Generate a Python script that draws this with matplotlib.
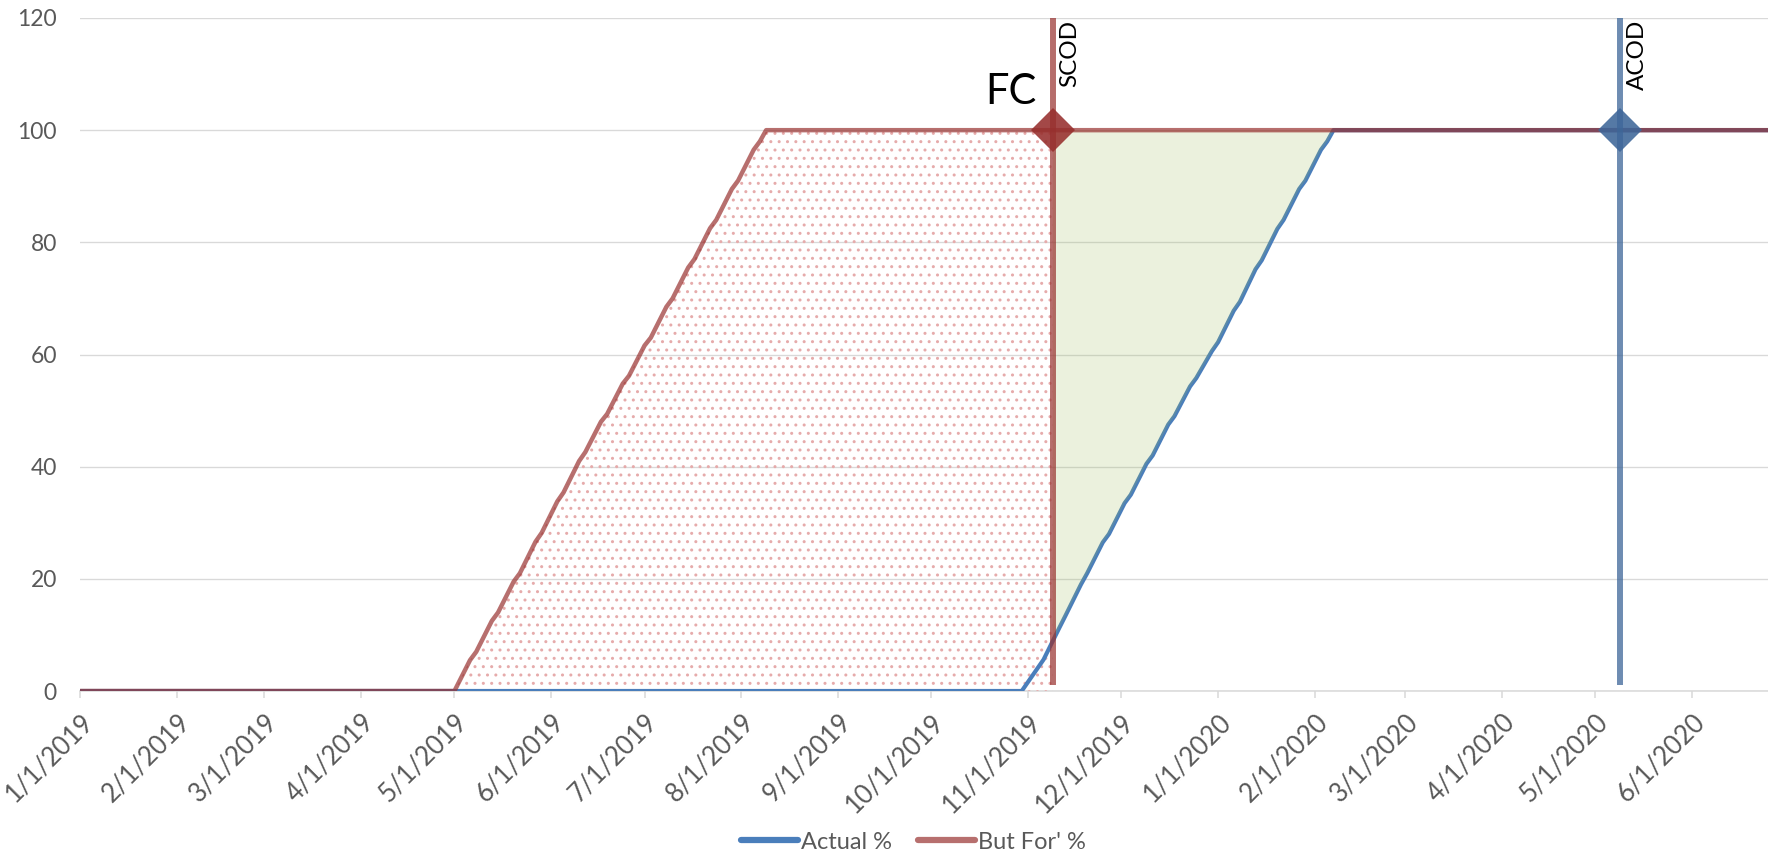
import matplotlib
matplotlib.use("Agg")
import matplotlib.pyplot as plt
import matplotlib.dates as mdates
import numpy as np
import pandas as pd

plt.rcParams['font.family'] = ['Lato', 'DejaVu Sans']
plt.rcParams['hatch.linewidth'] = 1.0

# ---- data -------------------------------------------------------------
tick_labels = ["1/1/2019", "2/1/2019", "3/1/2019", "4/1/2019", "5/1/2019",
               "6/1/2019", "7/1/2019", "8/1/2019", "9/1/2019", "10/1/2019",
               "11/1/2019", "12/1/2019", "1/1/2020", "2/1/2020", "3/1/2020",
               "4/1/2020", "5/1/2020", "6/1/2020"]
y_ticks = [0, 20, 40, 60, 80, 100, 120]
x_start = "2019-01-01"
x_end = "2020-06-25 10:00"

actual_dates = ["2019-01-01", "2019-10-30", "2019-11-04", "2019-11-06",
                "2019-11-11", "2019-11-13", "2019-11-18", "2019-11-20",
                "2019-11-25", "2019-11-27", "2019-12-02", "2019-12-04",
                "2019-12-09", "2019-12-11", "2019-12-16", "2019-12-18",
                "2019-12-23", "2019-12-25", "2019-12-30", "2020-01-01",
                "2020-01-06", "2020-01-08", "2020-01-13", "2020-01-15",
                "2020-01-20", "2020-01-22", "2020-01-27", "2020-01-29",
                "2020-02-03", "2020-02-05", "2020-02-07", "2020-06-30"]
actual_pct = [0, 0, 4.0, 5.6,
              11.2, 13.4, 19.0, 21.0,
              26.5, 28.0, 33.5, 35.0,
              40.5, 42.0, 47.5, 49.0,
              54.3, 55.8, 60.6, 62.2,
              67.8, 69.4, 75.2, 76.8,
              82.4, 84.0, 89.5, 91.0,
              96.5, 98.0, 100, 100]

butfor_dates = ["2019-01-01", "2019-05-01", "2019-05-06", "2019-05-08",
                "2019-05-13", "2019-05-15", "2019-05-20", "2019-05-22",
                "2019-05-27", "2019-05-29", "2019-06-03", "2019-06-05",
                "2019-06-10", "2019-06-12", "2019-06-17", "2019-06-19",
                "2019-06-24", "2019-06-26", "2019-07-01", "2019-07-03",
                "2019-07-08", "2019-07-10", "2019-07-15", "2019-07-17",
                "2019-07-22", "2019-07-24", "2019-07-29", "2019-07-31",
                "2019-08-05", "2019-08-07", "2019-08-09", "2020-06-30"]
butfor_pct = [0, 0, 5.5, 7.0,
              12.5, 14.0, 19.5, 21.0,
              26.6, 28.2, 33.8, 35.4,
              41.0, 42.6, 48.0, 49.4,
              54.8, 56.2, 61.6, 63.0,
              68.5, 70.0, 75.5, 77.0,
              82.5, 84.0, 89.5, 91.0,
              96.5, 98.0, 100, 100]

milestone_labels = ["SCOD", "ACOD"]
milestone_dates = ["2019-11-09", "2020-05-09"]
milestone_span = [1, 120]
milestone_level = 100
fc_label = "FC"

# ---- colours ----------------------------------------------------------
blue = "#4A7EBB"
red = (151 / 255, 47 / 255, 45 / 255)
red_line = (*red, 0.69)
steel = (61 / 255, 102 / 255, 153 / 255)
green = (155 / 255, 187 / 255, 89 / 255, 0.2)
dot_pink = "#E6ABAB"
grid_grey = "#D9D9D9"
text_grey = "#595959"


def to_num(seq):
    return mdates.date2num(pd.to_datetime(seq))


ac_x = to_num(actual_dates)
ac_y = np.array(actual_pct, dtype=float)
bf_x = to_num(butfor_dates)
bf_y = np.array(butfor_pct, dtype=float)
ms_x = to_num(milestone_dates)
scod_x, acod_x = ms_x
tick_x = to_num(pd.to_datetime(tick_labels, format="%m/%d/%Y"))

fig = plt.figure(figsize=(17.68, 8.52), dpi=100)
ax = fig.add_axes([80.4 / 1768, 1 - 691 / 852, 1 - 80.4 / 1768, (691 - 18) / 852])

# dotted area: But For progress before SCOD
fx = np.append(bf_x[bf_x < scod_x], scod_x)
fy = np.interp(fx, bf_x, bf_y)
ax.fill_between(fx, 0, fy, facecolor="none", edgecolor=dot_pink,
                hatch="..", linewidth=0, zorder=1.5)

# progress lines
ax.plot(ac_x, ac_y, color=blue, lw=3.0, solid_capstyle="round",
        solid_joinstyle="round", zorder=3, label="Actual %")

# shaded gap between actual progress and completion after SCOD
gx = np.append(scod_x, ac_x[ac_x > scod_x])
gy = np.interp(gx, ac_x, ac_y)
ax.fill_between(gx, gy, milestone_level, facecolor=green, linewidth=0, zorder=3.5)

ax.plot(bf_x, bf_y, color=red_line, lw=3.2, solid_capstyle="round",
        solid_joinstyle="round", zorder=5, label="But For' %")

# milestone lines and markers
ax.vlines([scod_x], milestone_span[0], milestone_span[1],
          colors=[(*red, 0.7)], lw=4.3, zorder=6)
ax.vlines([acod_x], milestone_span[0], milestone_span[1],
          colors=[(*steel, 0.75)], lw=4.3, zorder=6)
ax.plot([scod_x], [milestone_level], marker="D", ms=22.4, mew=0,
        color=(*red, 0.88), linestyle="none", zorder=7)
ax.plot([acod_x], [milestone_level], marker="D", ms=22.4, mew=0,
        color=(*steel, 0.88), linestyle="none", zorder=7)

for name, mx in zip(milestone_labels, ms_x):
    ax.annotate(name, xy=(mx, milestone_span[1]), xytext=(4.6, -1.5),
                textcoords="offset points", rotation=90, ha="left", va="top",
                fontsize=17.5, color="black", zorder=8)

ax.annotate(fc_label, xy=(scod_x, milestone_level), xytext=(-12, 18.7),
            textcoords="offset points", ha="right", va="baseline",
            fontsize=30, color="black", zorder=8)

# axes styling
ax.set_xlim(to_num([x_start])[0], to_num([x_end])[0])
ax.set_ylim(0, 120)
ax.set_yticks(y_ticks)
ax.set_xticks(tick_x)
ax.set_xticklabels(tick_labels, rotation=45, ha="right", va="top",
                   rotation_mode="anchor")
ax.yaxis.grid(True, color=grid_grey, lw=0.95)
ax.set_axisbelow(True)
for side in ("left", "top", "right"):
    ax.spines[side].set_visible(False)
ax.spines["bottom"].set_color(grid_grey)
ax.spines["bottom"].set_linewidth(1.1)
ax.spines["bottom"].set_zorder(0.5)
ax.tick_params(axis="y", length=0, pad=17, labelsize=16.5, labelcolor=text_grey)
ax.tick_params(axis="x", length=5, width=1.1, color=grid_grey, pad=8,
               labelsize=18.5, labelcolor=text_grey)

leg = fig.legend(loc="center", bbox_to_anchor=(0.5167, 0.0117), ncol=2,
                 frameon=False, fontsize=17, handlelength=2.4,
                 handletextpad=0.15, columnspacing=1.1, labelcolor=text_grey)
for h in leg.get_lines():
    h.set_linewidth(4.5)
    h.set_solid_capstyle("round")

fig.savefig("out.png", dpi=100)
